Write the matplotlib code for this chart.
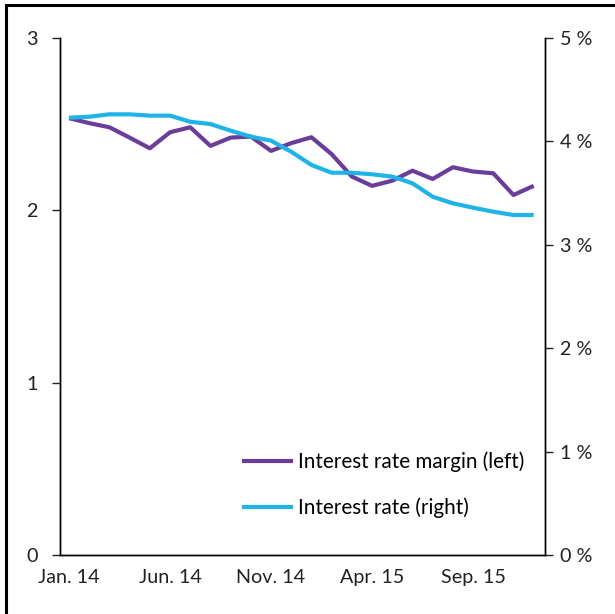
import matplotlib
matplotlib.use('Agg')
import matplotlib.pyplot as plt
from matplotlib.patches import Rectangle

plt.rcParams['font.family'] = ['Lato', 'DejaVu Sans']

months = list(range(24))
tick_pos = [0, 5, 10, 15, 20]
tick_labels = ['Jan. 14', 'Jun. 14', 'Nov. 14', 'Apr. 15', 'Sep. 15']

margin = [2.535, 2.506, 2.482, 2.422, 2.360, 2.453, 2.482, 2.374, 2.422, 2.428,
          2.345, 2.390, 2.424, 2.326, 2.196, 2.142, 2.172, 2.230, 2.182, 2.250,
          2.225, 2.215, 2.089, 2.142]
rate = [4.229, 4.239, 4.262, 4.262, 4.249, 4.249, 4.190, 4.168, 4.104, 4.046,
        4.007, 3.900, 3.772, 3.697, 3.697, 3.682, 3.659, 3.595, 3.465, 3.401,
        3.359, 3.320, 3.288, 3.288]

purple = '#6a3d9a'
blue = '#1fb3e6'
fs = 14.2

fig = plt.figure(figsize=(6.15, 6.14), dpi=100)
fig.patches.append(Rectangle((6 / 615, -0.05), 1.1, 1 - 5 / 614 + 0.05, transform=fig.transFigure,
                             fill=False, edgecolor='black', linewidth=2.2))
ax = fig.add_axes([60 / 615, 59 / 614, 485 / 615, 517 / 614])
ax2 = ax.twinx()

l1, = ax.plot(months, margin, color=purple, lw=3, solid_capstyle='butt', zorder=3)
l2, = ax2.plot(months, rate, color=blue, lw=3, solid_capstyle='butt')

ax.set_xlim(-0.446, 23.56)
ax.set_ylim(0, 3)
ax2.set_ylim(0, 5)
ax.set_yticks([0, 1, 2, 3])
ax2.set_yticks([0, 1, 2, 3, 4, 5])
ax2.set_yticklabels([f'{v} %' for v in range(6)])
ax.set_xticks(tick_pos)
ax.set_xticklabels(tick_labels)

for a in (ax, ax2):
    a.spines['top'].set_visible(False)
    for s in a.spines.values():
        s.set_linewidth(1.0)
    a.tick_params(labelsize=fs, width=1.0, length=6, colors='#222222')
ax.tick_params(axis='x', length=0, pad=10)
ax.tick_params(axis='y', pad=10)
ax2.tick_params(axis='y', pad=5)

ax.legend([l1, l2], ['Interest rate margin (left)', 'Interest rate (right)'],
          loc='lower right', bbox_to_anchor=(0.995, 0.035), frameon=False, fontsize=14.9,
          handlelength=2.45, handletextpad=0.25, labelspacing=1.25)

fig.savefig('out.png', dpi=100)
